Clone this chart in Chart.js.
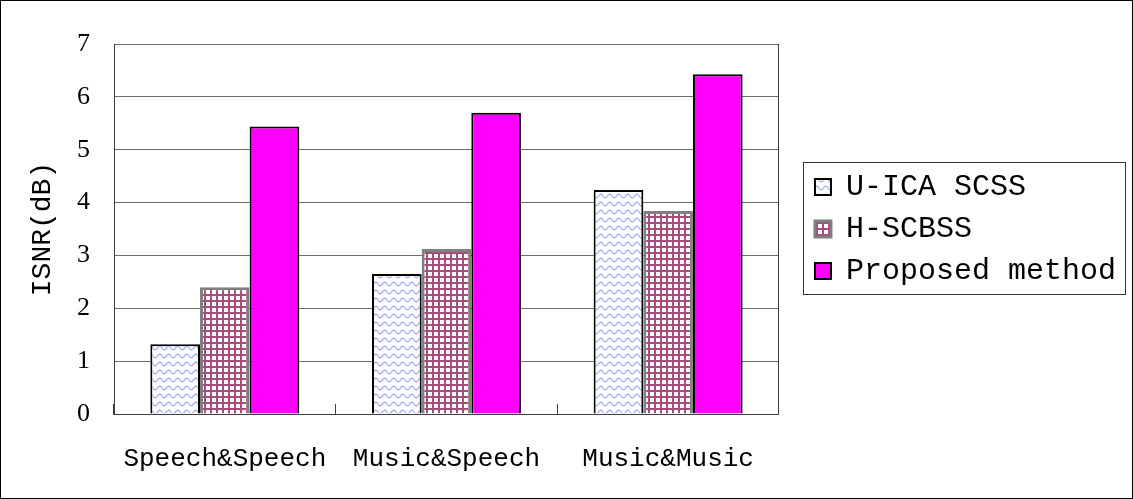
<!DOCTYPE html>
<html>
<head>
<meta charset="utf-8">
<script src="https://cdn.jsdelivr.net/npm/chart.js@4/dist/chart.umd.min.js"></script>
<style>
  html, body { margin: 0; padding: 0; background: #fff; }
  #wrap { width: 1133px; height: 499px; position: relative; }
</style>
</head>
<body>
<div id="wrap"><canvas id="isnrChart"></canvas></div>
<script>
const categories = ['Speech&Speech', 'Music&Speech', 'Music&Music'];
const seriesNames = ['U-ICA SCSS', 'H-SCBSS', 'Proposed method'];
const uicaScss = [1.32, 2.65, 4.24];
const hScbss = [2.40, 3.12, 3.84];
const proposedMethod = [5.44, 5.70, 6.43];
const yTicks = [0, 1, 2, 3, 4, 5, 6, 7];

const axisColor = '#404040';
const gridColor = '#6b6b6b';

// light blue wave fill
function wavePattern() {
    const c = document.createElement('canvas');
    c.width = 9; c.height = 8;
    const g = c.getContext('2d');
    g.fillStyle = '#fff';
    g.fillRect(0, 0, 9, 8);
    g.strokeStyle = '#a4acf6';
    g.lineWidth = 1.3;
    g.beginPath();
    for (let x = 0; x <= 9; x += 0.5) {
        const y = 4 + 1.8 * Math.sin(2 * Math.PI * x / 9);
        if (x === 0) g.moveTo(x, y); else g.lineTo(x, y);
    }
    g.stroke();
    return g.createPattern(c, 'repeat');
}

// maroon square grid fill
function gridPattern() {
    const c = document.createElement('canvas');
    c.width = 6; c.height = 6;
    const g = c.getContext('2d');
    g.fillStyle = '#fff';
    g.fillRect(0, 0, 6, 6);
    g.fillStyle = '#a84c7c';
    g.fillRect(0, 0, 6, 2);
    g.fillRect(0, 0, 2, 6);
    return g.createPattern(c, 'repeat');
}

const frameBorders = {
    id: 'frameBorders',
    afterDraw(chart) {
        const ctx = chart.ctx;
        ctx.save();
        // box around legend items
        const boxes = chart.legend.legendHitBoxes;
        if (boxes && boxes.length) {
            let l = Infinity, r = -Infinity, t = Infinity, b = -Infinity;
            boxes.forEach(h => {
                l = Math.min(l, h.left); r = Math.max(r, h.left + h.width);
                t = Math.min(t, h.top); b = Math.max(b, h.top + h.height);
            });
            ctx.strokeStyle = '#333';
            ctx.lineWidth = 1;
            ctx.strokeRect(Math.round(l - 12) + 0.5, Math.round(t - 10) + 0.5,
                Math.round(r - l + 21), Math.round(b - t + 18));
        }
        // outer frame
        ctx.strokeStyle = '#000';
        ctx.lineWidth = 1;
        ctx.strokeRect(0.5, 0.5, chart.width - 1, chart.height - 1);
        ctx.restore();
    }
};

Chart.defaults.font.family = "'Liberation Mono', monospace";
Chart.defaults.color = '#000';

new Chart(document.getElementById('isnrChart'), {
    type: 'bar',
    data: {
        labels: categories,
        datasets: [
            {
                label: seriesNames[0],
                data: uicaScss,
                backgroundColor: wavePattern(),
                borderColor: '#000',
                borderWidth: 2
            },
            {
                label: seriesNames[1],
                data: hScbss,
                backgroundColor: gridPattern(),
                borderColor: '#808080',
                borderWidth: 3
            },
            {
                label: seriesNames[2],
                data: proposedMethod,
                backgroundColor: '#ff00ff',
                borderColor: '#000',
                borderWidth: 2
            }
        ]
    },
    options: {
        responsive: true,
        maintainAspectRatio: false,
        devicePixelRatio: 1,
        animation: false,
        layout: { padding: { left: 22, right: 7, top: 44, bottom: 24 } },
        datasets: {
            bar: { categoryPercentage: 0.672, barPercentage: 1 }
        },
        plugins: {
            tooltip: { enabled: false },
            legend: {
                position: 'right',
                fullSize: false,
                maxWidth: 400,
                labels: {
                    boxWidth: 16,
                    boxHeight: 16,
                    padding: 12,
                    font: { size: 30 },
                    color: '#000'
                }
            }
        },
        scales: {
            x: {
                border: { display: true, color: axisColor, width: 1 },
                grid: {
                    offset: true,
                    drawOnChartArea: false,
                    drawTicks: true,
                    tickLength: -10,
                    color: axisColor
                },
                ticks: { padding: 40, maxRotation: 0, minRotation: 0, font: { size: 26 } },
                afterFit(scale) { scale.height = 61; }
            },
            y: {
                min: 0,
                max: 7,
                afterBuildTicks(scale) {
                    scale.ticks = yTicks.map(v => ({ value: v }));
                },
                border: { display: true, color: axisColor },
                grid: { color: gridColor, drawTicks: false },
                ticks: {
                    padding: 24,
                    font: { family: "'Liberation Serif', serif", size: 26 }
                },
                title: {
                    display: true,
                    text: 'ISNR(dB)',
                    font: { size: 28 },
                    padding: { top: 4, bottom: 18 }
                },
                afterFit(scale) { scale.width = 92; }
            },
            y1: {
                position: 'right',
                grid: { display: false, drawTicks: false },
                ticks: { display: false },
                border: { display: true, color: axisColor },
                afterFit(scale) { scale.width = 24; }
            }
        }
    },
    plugins: [frameBorders]
});
</script>
</body>
</html>
